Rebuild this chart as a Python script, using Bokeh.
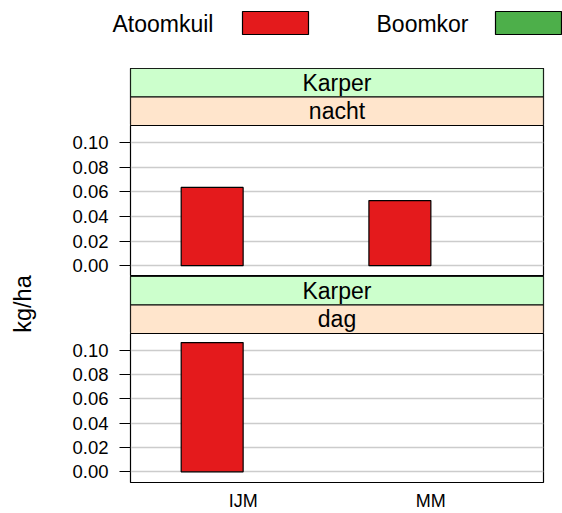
import numpy as np
from bokeh.plotting import figure
from bokeh.models import Range1d, FixedTicker, NumeralTickFormatter, ColumnDataSource
from bokeh.layouts import column, row
from bokeh.transform import dodge
from bokeh.core.properties import value
from bokeh.embed import file_html
from bokeh.resources import INLINE

# ---- data ----
categories = ["IJM", "MM"]
series = ["Atoomkuil", "Boomkor"]
series_colors = ["#E41A1C", "#4DAF4A"]
species = "Karper"
periods = ["nacht", "dag"]
nacht_atoomkuil = [0.0636, 0.0529]
nacht_boomkor = [np.nan, np.nan]
dag_atoomkuil = [0.1064, np.nan]
dag_boomkor = [np.nan, np.nan]
y_ticks = [0.00, 0.02, 0.04, 0.06, 0.08, 0.10]
y_label = "kg/ha"

FONT = value("Liberation Sans")
STRIP_COLORS = ["#CCFFCC", "#FFE5CC"]
LEG_H = 68
YLAB_W = 48
COL_W = 506
LEFT = 82
RIGHT = 11
PANEL_H = 151
STRIP_H = 57
XAX_H = 29
Y_RANGE = (-0.0088, 0.1139)


def base_fig(w, h, **kw):
    return figure(width=w, height=h, output_backend="svg", toolbar_location=None,
                  background_fill_color="white", border_fill_color="white", **kw)


# ---- legend ----
leg = base_fig(562, LEG_H, x_range=Range1d(0, 562), y_range=Range1d(LEG_H, 0),
               x_axis_location=None, y_axis_location=None,
               min_border_left=0, min_border_right=0, min_border_top=0, min_border_bottom=0)
leg.outline_line_color = None
leg.grid.visible = False
text_x = [112, 376]
box_l = [242, 495]
leg.text(x=text_x, y=[23.5, 23.5], text=series, text_font=FONT, text_font_size="23px",
         text_baseline="middle", text_align="left", text_color="black")
leg.quad(left=box_l, right=[b + 66 for b in box_l], top=[11, 11], bottom=[34, 34],
         fill_color=series_colors, line_color="black", line_width=1.2)

# ---- y label ----
ylab_h = STRIP_H * 2 + PANEL_H * 2 + XAX_H
ylab = base_fig(YLAB_W, ylab_h, x_range=Range1d(0, YLAB_W), y_range=Range1d(ylab_h, 0),
                x_axis_location=None, y_axis_location=None,
                min_border_left=0, min_border_right=0, min_border_top=0, min_border_bottom=0)
ylab.outline_line_color = None
ylab.grid.visible = False
ylab.text(x=[22.5], y=[235.5], text=[y_label], angle=np.pi / 2, text_font=FONT,
          text_font_size="23.5px", text_align="center", text_baseline="middle", text_color="black")


def strip(label2):
    s = base_fig(COL_W, STRIP_H, x_range=Range1d(0, 1), y_range=Range1d(0, 2),
                 x_axis_location=None, y_axis_location=None,
                 min_border_left=LEFT, min_border_right=RIGHT, min_border_top=0, min_border_bottom=0)
    s.grid.visible = False
    s.outline_line_color = "black"
    s.outline_line_width = 1.2
    s.quad(left=[0, 0], right=[1, 1], bottom=[1, 0], top=[2, 1], fill_color=STRIP_COLORS,
           line_color="black", line_width=1.2)
    s.text(x=[0.5, 0.5], y=[1.5, 0.5], text=[species, label2], text_font=FONT,
           text_font_size="23px", text_align="center", text_baseline="middle", text_color="black")
    return s


xpos = [i + 1 for i in range(len(categories))]


def panel(vals_a, vals_b, show_x):
    kw = dict(min_border_left=LEFT, min_border_right=RIGHT, min_border_top=0,
              min_border_bottom=XAX_H if show_x else 0)
    if not show_x:
        kw["x_axis_location"] = None
    p = base_fig(COL_W, PANEL_H + (XAX_H if show_x else 0), x_range=Range1d(0.4, 2.6),
                 y_range=Range1d(*Y_RANGE), **kw)
    src = ColumnDataSource(dict(x=xpos, a=vals_a, b=vals_b))
    p.vbar(x=dodge("x", -0.165, range=p.x_range), top="a", bottom=0, width=0.33,
           fill_color=series_colors[0], line_color="black", line_width=1.2, source=src)
    p.vbar(x=dodge("x", 0.165, range=p.x_range), top="b", bottom=0, width=0.33,
           fill_color=series_colors[1], line_color="black", line_width=1.2, source=src)
    p.outline_line_color = "black"
    p.outline_line_width = 1.2
    p.xgrid.visible = False
    tk = FixedTicker(ticks=y_ticks)
    p.yaxis.ticker = tk
    p.ygrid.ticker = tk
    p.ygrid.grid_line_color = "#cccccc"
    p.ygrid.grid_line_width = 1.5
    p.yaxis.formatter = NumeralTickFormatter(format="0.00")
    p.yaxis.axis_line_color = None
    p.yaxis.major_tick_out = 11
    p.yaxis.major_tick_in = 0
    p.yaxis.minor_tick_line_color = None
    p.yaxis.major_tick_line_color = "black"
    p.yaxis.major_label_text_font = "Liberation Sans"
    p.yaxis.major_label_text_font_size = "18.5px"
    p.yaxis.major_label_text_color = "black"
    p.yaxis.major_label_standoff = 11
    if show_x:
        p.xaxis.ticker = FixedTicker(ticks=xpos)
        p.xaxis.major_label_overrides = {x: c for x, c in zip(xpos, categories)}
        p.xaxis.axis_line_color = None
        p.xaxis.major_tick_out = 0
        p.xaxis.major_tick_in = 0
        p.xaxis.minor_tick_line_color = None
        p.xaxis.major_tick_line_color = None
        p.xaxis.major_label_text_font = "Liberation Sans"
        p.xaxis.major_label_text_font_size = "18px"
        p.xaxis.major_label_text_color = "black"
        p.xaxis.major_label_standoff = 8
    return p


s1 = strip(periods[0])
p1 = panel(nacht_atoomkuil, nacht_boomkor, False)
s2 = strip(periods[1])
p2 = panel(dag_atoomkuil, dag_boomkor, True)

layout = column(leg, row(ylab, column(s1, p1, s2, p2)))

open("out.html", "w").write(file_html(layout, INLINE))
